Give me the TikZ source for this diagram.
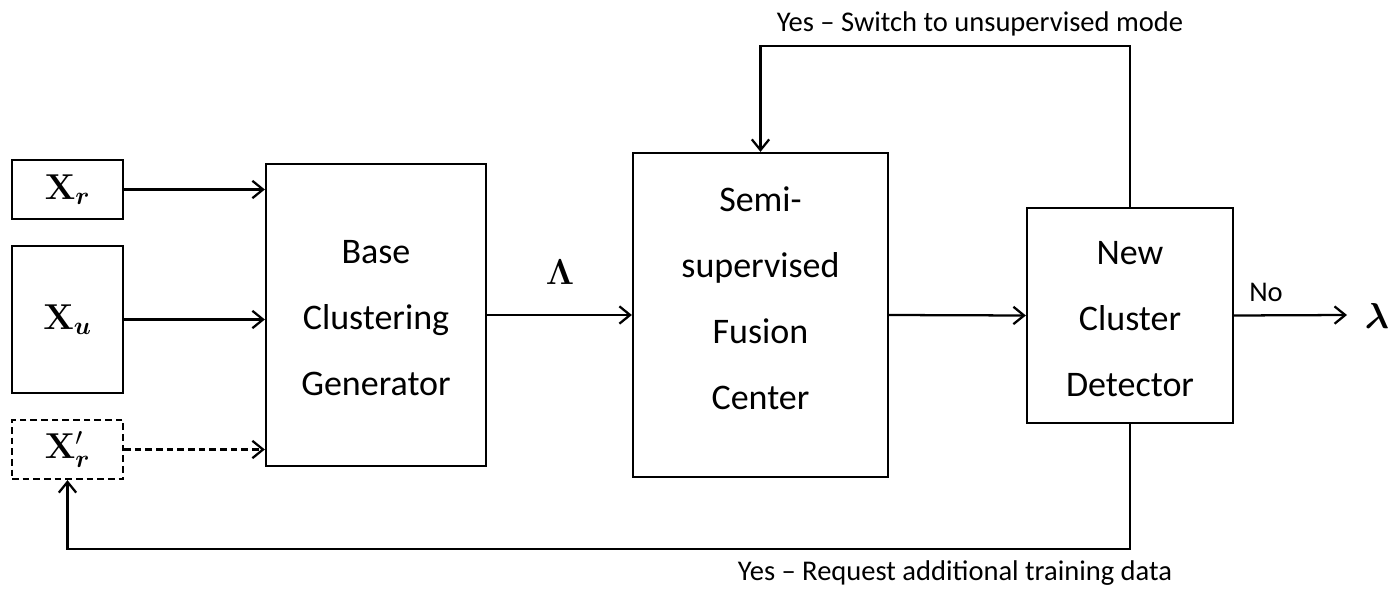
\documentclass[tikz,border=0pt]{standalone}
\usepackage{fix-cm}
\usepackage{amsmath}
\usepackage[no-math]{fontspec}
\setmainfont{Carlito}
\usetikzlibrary{arrows.meta}

\tikzset{
  blk/.style={draw, line width=1.7pt, inner sep=0pt},
  txt/.style={inner sep=0pt, align=center, font=\fontsize{27}{49.5}\selectfont},
  inbox/.style={blk, font=\fontsize{27}{30}\selectfont},
  flow/.style={line width=1.7pt, -{Straight Barb[length=8pt, width=13pt, line width=1.7pt]}},
  lbl/.style={font=\fontsize{21.4}{24}\selectfont, inner sep=0pt},
  sym/.style={font=\fontsize{27}{30}\selectfont, inner sep=0pt},
}

\begin{document}
\begin{tikzpicture}[x=0.75pt, y=-0.75pt]
  \useasboundingbox (0,0) rectangle (1395,592);

  % input data blocks
  \node[inbox, minimum width=83.25pt, minimum height=44.25pt] (xr) at (67.5,189.5)
    {$\mathbf{X}_{\boldsymbol{r}}$};
  \node[inbox, minimum width=83.25pt, minimum height=110.25pt] (xu) at (67.5,319.5)
    {$\mathbf{X}_{\boldsymbol{u}}$};
  \node[inbox, dashed, dash pattern=on 5pt off 3pt, minimum width=83.25pt, minimum height=44.25pt] (xrp) at (67.5,449.5)
    {$\mathbf{X}'_{\boldsymbol{r}}$};

  % processing blocks
  \node[blk, minimum width=165pt, minimum height=226.5pt] (base) at (376,315) {};
  \node[txt] (basetxt) at (376,318) {Base\\Clustering\\Generator};
  \node[blk, minimum width=191.25pt, minimum height=243pt] (semi) at (760.5,315) {};
  \node[txt] (semitxt) at (760.5,298) {Semi-\\supervised\\Fusion\\Center};
  \node[blk, minimum width=154.5pt, minimum height=161.25pt] (ncd) at (1130,315.5) {};
  \node[txt] (ncdtxt) at (1130,319) {New\\Cluster\\Detector};

  % output
  \node[sym] (lam) at (1377,316) {$\boldsymbol{\lambda}$};
  \coordinate (out) at (1347,315);

  % feedback levels
  \coordinate (top) at (0,46);
  \coordinate (bot) at (0,549);

  % inputs to base clustering generator
  \draw[flow] (xr.east) -- (xr.east -| base.west);
  \draw[flow] (xu.east) -- (xu.east -| base.west);
  \draw[flow, dashed, dash pattern=on 5pt off 3pt] (xrp.east) -- (xrp.east -| base.west);

  % main chain
  \draw[flow] (base.east) -- (semi.west);
  \node[sym] (Lam) at (560,272) {$\mathbf{\Lambda}$};
  \draw[flow] (semi.east) -- (ncd.west);
  \draw[flow] (ncd.east) -- (out);
  \node[lbl] (no) at (1266,292) {No};

  % feedback loops
  \draw[flow] (ncd.north) |- (top -| semi.north) -- (semi.north);
  \node[lbl] (yes1) at (980,24) {Yes -- Switch to unsupervised mode};
  \draw[flow] (ncd.south) |- (bot -| xrp.south) -- (xrp.south);
  \node[lbl] (yes2) at (955,573) {Yes -- Request additional training data};
\end{tikzpicture}
\end{document}
